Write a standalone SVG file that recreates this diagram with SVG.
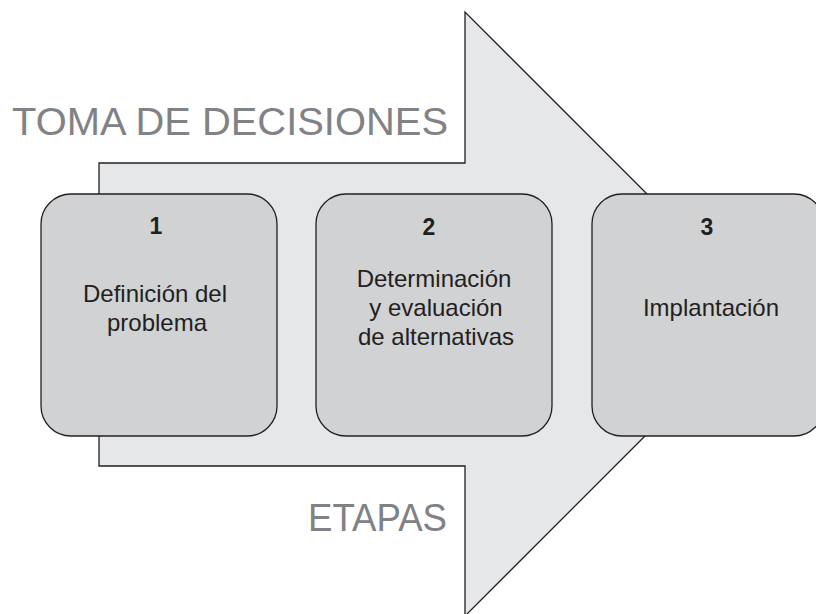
<svg xmlns="http://www.w3.org/2000/svg" width="816" height="614" viewBox="0 0 816 614">
<style>
.box{fill:#d1d2d4;stroke:#231f20;stroke-width:1.3}
.num{font-family:"Liberation Sans",Arial,sans-serif;font-size:23px;font-weight:bold;fill:#231f20;text-anchor:middle}
.lbl{font-family:"Liberation Sans",Arial,sans-serif;font-size:24px;fill:#231f20;text-anchor:middle}
.big{font-family:"Liberation Sans",Arial,sans-serif;font-size:38px;fill:#808285}
</style>
<rect width="816" height="614" fill="#ffffff"/>
<g id="arrow">
<polygon points="99,163 465,163 465,12 767,314 465,616 465,466 99,466" fill="#e6e7e8" stroke="#231f20" stroke-width="1.3"/>
</g>
<g id="title">
<text class="big" x="12" y="135" textLength="436" lengthAdjust="spacingAndGlyphs">TOMA DE DECISIONES</text>
</g>
<g id="etapas">
<text class="big" x="308" y="531" textLength="139" lengthAdjust="spacingAndGlyphs">ETAPAS</text>
</g>
<g id="connectors"></g>
<g id="node1">
<rect class="box" x="41" y="194" width="236" height="242" rx="30" ry="30"/>
<text class="num" x="156" y="234">1</text>
<text class="lbl" x="155" y="302">Definición del</text>
<text class="lbl" x="157" y="331">problema</text>
</g>
<g id="node2">
<rect class="box" x="316" y="194" width="236" height="242" rx="30" ry="30"/>
<text class="num" x="429" y="235">2</text>
<text class="lbl" x="434" y="287">Determinación</text>
<text class="lbl" x="436" y="316">y evaluación</text>
<text class="lbl" x="436" y="345">de alternativas</text>
</g>
<g id="node3">
<rect class="box" x="592" y="194" width="232" height="242" rx="30" ry="30"/>
<text class="num" x="707" y="235">3</text>
<text class="lbl" x="711" y="316">Implantación</text>
</g>
</svg>
